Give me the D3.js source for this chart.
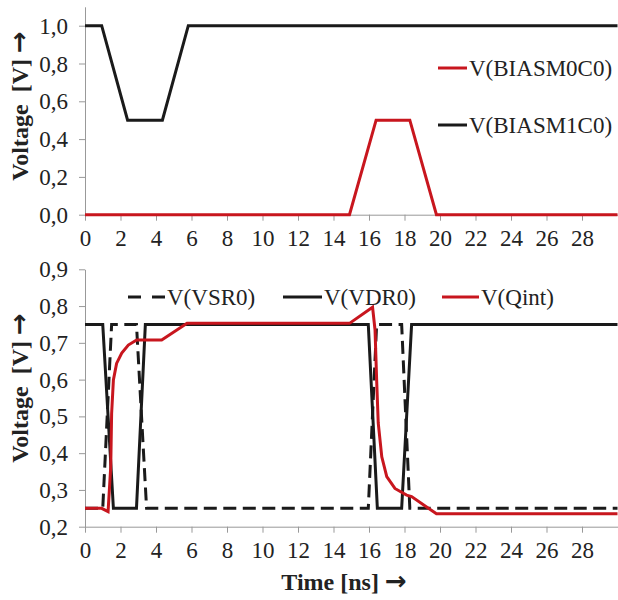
<!DOCTYPE html>
<html>
<head>
<meta charset="utf-8">
<script src="https://cdn.jsdelivr.net/npm/d3@7"></script>
<style>
  body { margin: 0; background: #fff; }
  .axis path, .axis line { stroke: #999; }
</style>
</head>
<body>
<div id="chart"></div>
<script>
const xTicks = [0, 2, 4, 6, 8, 10, 12, 14, 16, 18, 20, 22, 24, 26, 28];
const topTicks = [0, 0.2, 0.4, 0.6, 0.8, 1.0];
const botTicks = [0.2, 0.3, 0.4, 0.5, 0.6, 0.7, 0.8, 0.9];

// top panel
const bias0T = [0, 14.9, 16.4, 18.3, 19.8, 30];
const bias0V = [0, 0, 0.5, 0.5, 0, 0];
const bias1T = [0, 0.94, 2.4, 4.36, 5.82, 30];
const bias1V = [1, 1, 0.5, 0.5, 1, 1];

// bottom panel
const vsrT = [0, 1.0, 1.5, 2.9, 3.47, 15.96, 16.43, 17.84, 18.3, 30];
const vsrV = [0.25, 0.25, 0.75, 0.75, 0.25, 0.25, 0.75, 0.75, 0.25, 0.25];
const vdrT = [0, 1.0, 1.6, 2.9, 3.4, 15.96, 16.47, 17.84, 18.4, 30];
const vdrV = [0.75, 0.75, 0.25, 0.25, 0.75, 0.75, 0.25, 0.25, 0.75, 0.75];
const qintT = [0, 0.94, 1.3, 1.45, 1.5, 1.6, 1.78, 2.07, 2.44, 2.91, 4.32, 5.75,
  14.9, 16.2, 16.34, 16.43, 16.52, 16.72, 17.0, 17.46, 18.12, 18.4, 19.8, 30];
const qintV = [0.25, 0.25, 0.241, 0.363, 0.508, 0.599, 0.644, 0.672, 0.694, 0.708, 0.708, 0.753,
  0.753, 0.797, 0.735, 0.6, 0.482, 0.39, 0.336, 0.304, 0.286, 0.282, 0.235, 0.235];

const red = "#c8161e", black = "#1a1a1a";
const serif = "Liberation Serif";
const fmt = d3.format(".1f");
const comma = d => fmt(d).replace(".", ",");

const svg = d3.select("#chart").append("svg")
    .attr("width", 618)
    .attr("height", 600);

const x = d3.scaleLinear().domain([0, 30]).range([85, 617.5]);
const yTop = d3.scaleLinear().domain([0, 1.1]).range([214.7, 6.8]);
const yBot = d3.scaleLinear().domain([0.2, 0.9]).range([526.7, 269.3]);

function drawAxes(y, ticks, y0) {
    svg.append("g")
        .attr("class", "axis")
        .attr("transform", `translate(0, ${y(y0)})`)
        .call(d3.axisBottom(x).tickValues(xTicks).tickSize(6).tickSizeOuter(0).tickPadding(9))
        .call(g => g.attr("font-family", serif).attr("font-size", 23))
        .call(g => g.selectAll("text").attr("font-family", serif).attr("font-size", 23).attr("fill", "#222"));
    svg.append("g")
        .attr("class", "axis")
        .attr("transform", `translate(${x(0)}, 0)`)
        .call(d3.axisLeft(y).tickValues(ticks).tickFormat(comma).tickSize(6).tickSizeOuter(0).tickPadding(11))
        .call(g => g.attr("font-family", serif).attr("font-size", 23))
        .call(g => g.selectAll("text").attr("font-family", serif).attr("font-size", 23)
            .attr("fill", "#222").attr("dy", "0.33em"));
}

function drawLine(ts, vs, y, color, dash) {
    const pts = ts.map((t, i) => [t, vs[i]]);
    svg.append("path")
        .datum(pts)
        .attr("fill", "none")
        .attr("stroke", color)
        .attr("stroke-width", 3)
        .attr("stroke-dasharray", dash || null)
        .attr("d", d3.line().x(d => x(d[0])).y(d => y(d[1])));
}

function legendItem(x1, x2, yy, color, dash, label) {
    svg.append("line")
        .attr("x1", x1).attr("x2", x2)
        .attr("y1", yy).attr("y2", yy)
        .attr("stroke", color)
        .attr("stroke-width", 3)
        .attr("stroke-dasharray", dash || null);
    svg.append("text")
        .attr("x", x2 + 2)
        .attr("y", yy + 8)
        .attr("fill", "#222")
        .attr("font-family", serif)
        .attr("font-size", 23)
        .text(label);
}

function titleText(sel, label) {
    sel.attr("fill", "#222")
        .attr("font-family", serif)
        .attr("font-size", 24)
        .attr("font-weight", "bold");
    sel.append("tspan").text(label);
    sel.append("tspan").attr("font-family", "DejaVu Sans").attr("font-size", 26).text("\u2192");
}

function yTitle(cy) {
    const t = svg.append("text")
        .attr("transform", `translate(28, ${cy}) rotate(-90)`)
        .attr("text-anchor", "middle");
    titleText(t, "Voltage\u00a0 [V] ");
}

// top chart
drawAxes(yTop, topTicks, 0);
drawLine(bias1T, bias1V, yTop, black);
drawLine(bias0T, bias0V, yTop, red);
legendItem(438, 467, 68, red, null, "V(BIASM0C0)");
legendItem(438, 467, 125, black, null, "V(BIASM1C0)");
yTitle(106);

// bottom chart
drawAxes(yBot, botTicks, 0.2);
drawLine(vsrT, vsrV, yBot, black, "13,6.5");
drawLine(vdrT, vdrV, yBot, black);
drawLine(qintT, qintV, yBot, red);
legendItem(128, 165, 297, black, "13,11", "V(VSR0)");
legendItem(283, 322, 297, black, null, "V(VDR0)");
legendItem(442, 479, 297, red, null, "V(Qint)");
yTitle(388);

const xt = svg.append("text")
    .attr("x", 344)
    .attr("y", 590)
    .attr("text-anchor", "middle");
titleText(xt, "Time [ns] ");
</script>
</body>
</html>
